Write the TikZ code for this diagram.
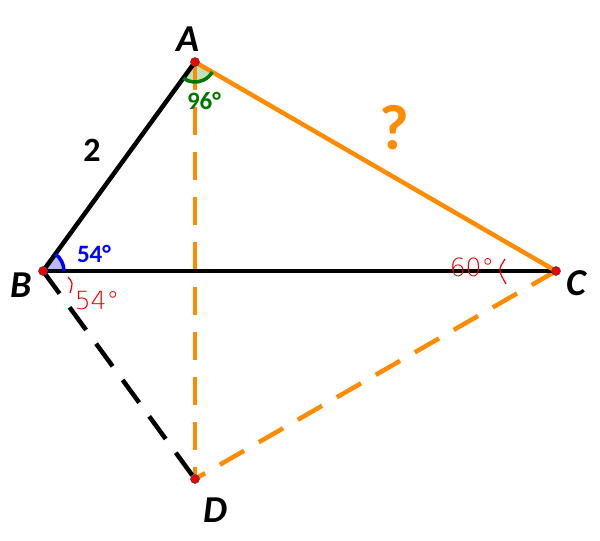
\documentclass[tikz,border=0pt]{standalone}
\usepackage{fontspec}
\setmainfont{Carlito}
\newfontfamily\handfont{DejaVu Sans ExtraLight}
\definecolor{segorange}{RGB}{255,140,0}
\definecolor{angreen}{RGB}{0,120,0}
\definecolor{angreenfill}{RGB}{190,225,190}
\definecolor{anblue}{RGB}{0,0,255}
\definecolor{anbluefill}{RGB}{185,185,255}
\definecolor{ptred}{RGB}{240,0,0}
\begin{document}
\begin{tikzpicture}[x=1pt,y=-1pt,
  seg/.style={line width=4.5pt},
  blackseg/.style={seg,draw=black},
  orangeseg/.style={seg,draw=segorange},
  dashseg/.style={dash pattern=on 28pt off 17pt},
  pt/.style={circle,fill=ptred,draw=black!70,line width=0.6pt,inner sep=0pt,minimum size=9pt},
  ptlabel/.style={font=\fontsize{38}{38}\selectfont\bfseries\itshape},
  handmark/.style={draw=ptred,line width=1.2pt},
  handtext/.style={text=ptred,font=\fontsize{25}{25}\selectfont\handfont}
]
\useasboundingbox (0,0) rectangle (600,541);
\coordinate (A) at (195,62);
\coordinate (B) at (43,271);
\coordinate (C) at (556,271);
\coordinate (D) at (195,479);

% angle sectors
\fill[angreenfill] (A) -- ++(234:20pt) arc[start angle=234,end angle=330,radius=20pt] -- cycle;
\fill[anbluefill] (B) -- ++(0:21pt) arc[start angle=0,end angle=54,radius=21pt] -- cycle;

% segments
\draw[orangeseg,dashseg] (A) -- (D);
\draw[blackseg,dashseg] (B) -- (D);
\draw[orangeseg,dashseg] (C) -- (D);
\draw[blackseg] (A) -- (B);
\draw[blackseg] (B) -- (C);
\draw[orangeseg] (A) -- (C);

% angle arcs
\draw[angreen,line width=3.5pt] (A) ++(234:20pt) arc[start angle=234,end angle=330,radius=20pt];
\draw[anblue,line width=3.5pt] (B) ++(0:21pt) arc[start angle=0,end angle=54,radius=21pt];

% points
\node[pt] (pA) at (A) {};
\node[pt] (pB) at (B) {};
\node[pt] (pC) at (C) {};
\node[pt] (pD) at (D) {};

% point labels
\node[ptlabel] (lA) at (188,39) {A};
\node[ptlabel] (lB) at (21,285) {B};
\node[ptlabel] (lC) at (576,283) {C};
\node[ptlabel] (lD) at (215,510) {D};

% side labels
\node[font=\fontsize{34}{34}\selectfont\bfseries] (l2) at (92,150) {2};
\node[text=segorange,font=\fontsize{64}{64}\selectfont\bfseries] (lq) at (394,128) {?};

% angle labels
\node[text=angreen,font=\fontsize{25}{25}\selectfont\bfseries] (l96) at (204,101) {96°};
\node[text=anblue,font=\fontsize{25}{25}\selectfont\bfseries] (l54) at (94,254) {54°};

% handwritten annotations
\draw[handmark] (68,277) .. controls (73,283) .. (70,293);
\node[handtext] (h54) at (97,301) {54°};
\draw[handmark] (505,259) .. controls (498,270) .. (506,284);
\node[handtext] (h60) at (472,267) {60°};
\end{tikzpicture}
\end{document}
